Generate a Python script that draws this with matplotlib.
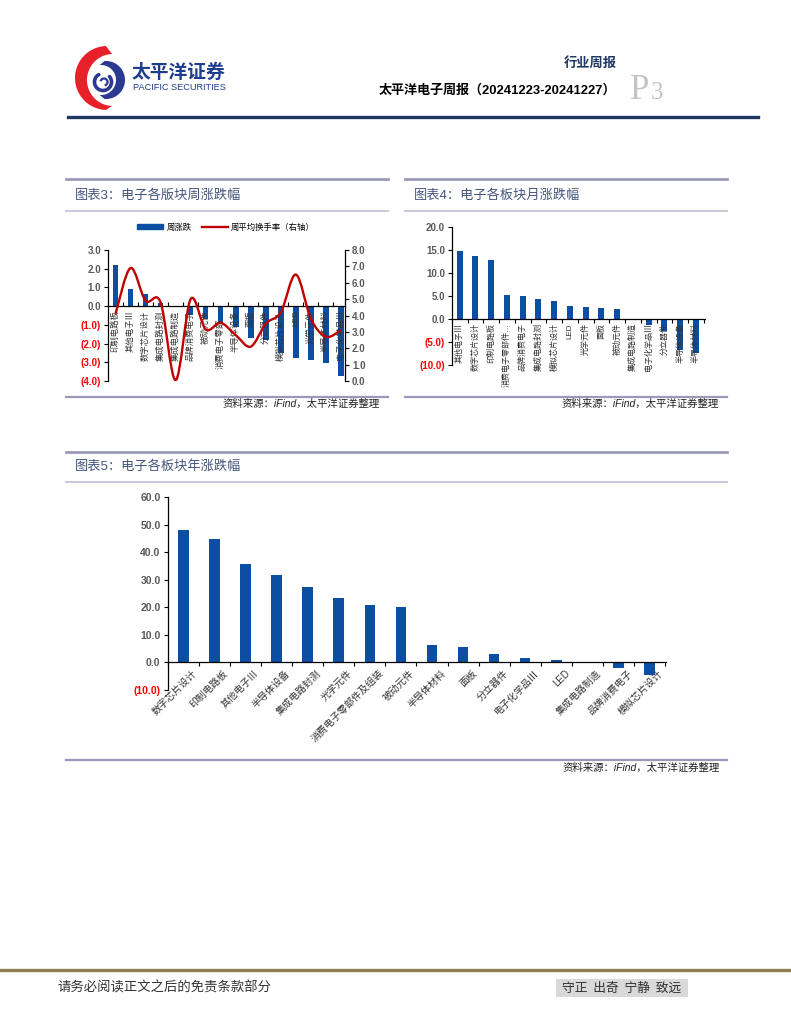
#!/usr/bin/env python3
"""Rebuild page 3 of the weekly electronics report: three sector return charts."""
import matplotlib

matplotlib.use("Agg")
import matplotlib.pyplot as plt
from matplotlib.lines import Line2D
from matplotlib.patches import Patch, PathPatch, Polygon, Rectangle
from matplotlib.path import Path
from matplotlib.ticker import FixedLocator, FuncFormatter
import numpy as np

plt.rcParams["font.family"] = ["Noto Sans CJK SC", "DejaVu Sans"]

W, H = 791, 1024

# ---- data ---------------------------------------------------------------
week_cats = ["印制电路板", "其他电子Ⅲ", "数字芯片设计", "集成电路封测", "集成电路制造",
             "品牌消费电子", "被动元件", "消费电子零部…", "半导体设备", "面板",
             "分立器件", "模拟芯片设计", "LED", "光学元件", "半导体材料", "电子化学品Ⅲ"]
week_chg = [2.2, 0.9, 0.65, 0.15, 0.0, -0.5, -0.7, -0.9, -1.1, -1.7,
            -1.8, -2.5, -2.75, -2.9, -3.05, -3.75]
week_turnover = [4.1, 6.9, 4.9, 4.8, 0.05, 5.0, 3.15, 3.55, 2.8, 2.1,
                 3.5, 4.2, 6.5, 3.8, 2.7, 3.1]

month_cats = ["其他电子Ⅲ", "数字芯片设计", "印制电路板", "消费电子零部件…", "品牌消费电子",
              "集成电路封测", "模拟芯片设计", "LED", "光学元件", "面板", "被动元件",
              "集成电路制造", "电子化学品Ⅲ", "分立器件", "半导体设备", "半导体材料"]
month_chg = [14.7, 13.6, 12.9, 5.3, 4.9, 4.3, 4.0, 2.8, 2.6, 2.4, 2.2,
             0.0, -1.4, -2.7, -6.7, -7.3]

year_cats = ["数字芯片设计", "印制电路板", "其他电子Ⅲ", "半导体设备", "集成电路封测",
             "光学元件", "消费电子零部件及组装", "被动元件", "半导体材料", "面板",
             "分立器件", "电子化学品Ⅲ", "LED", "集成电路制造", "品牌消费电子", "模拟芯片设计"]
year_chg = [48.0, 44.6, 35.6, 31.8, 27.3, 23.4, 20.9, 20.1, 6.5, 5.5,
            3.0, 1.5, 0.9, 0.0, -2.2, -4.6]

week_ticks = [3.0, 2.0, 1.0, 0.0, -1.0, -2.0, -3.0, -4.0]
turnover_ticks = [0.0, 1.0, 2.0, 3.0, 4.0, 5.0, 6.0, 7.0, 8.0]
month_ticks = [20.0, 15.0, 10.0, 5.0, 0.0, -5.0, -10.0]
year_ticks = [60.0, 50.0, 40.0, 30.0, 20.0, 10.0, 0.0, -10.0]

BLUE = "#0b4ea2"
RED = "#c00000"
GRAY = "#595959"
TITLE = "#44557f"
RULE = "#9a9ab8"
LOGO_BLUE = "#2b3990"
NUM_FONT = ["Liberation Sans", "Noto Sans CJK SC"]


def box(x0, y0, x1, y1):
    """pixel box (top-left origin) -> figure fraction rect"""
    return [x0 / W, 1 - y1 / H, (x1 - x0) / W, (y1 - y0) / H]


def paren_fmt(v, _pos):
    return f"({abs(v):.1f})" if v < 0 else f"{v:.1f}"


def crescent(c_out, r_out, c_in, r_in, a0, a1):
    """closed outline between two arcs, angles in degrees, y axis pointing down"""
    t = np.radians(np.linspace(a0, a1, 60))
    outer = np.c_[c_out[0] + r_out * np.cos(t), c_out[1] - r_out * np.sin(t)]
    inner = np.c_[c_in[0] + r_in * np.cos(t[::-1]), c_in[1] - r_in * np.sin(t[::-1])]
    return np.r_[outer, inner]


def style_value_axis(ax, ticks, ylim, labelsize):
    ax.set_ylim(*ylim)
    ax.yaxis.set_major_locator(FixedLocator(ticks))
    ax.yaxis.set_major_formatter(FuncFormatter(paren_fmt))
    ax.tick_params(axis="y", direction="out", length=3, width=0.8, pad=2,
                   labelsize=labelsize)
    for spine in ("top", "right"):
        ax.spines[spine].set_visible(False)
    ax.spines["bottom"].set_position(("data", 0))
    for spine in ax.spines.values():
        spine.set_linewidth(0.9)
        spine.set_color("#000000")
    for lab in ax.get_yticklabels():
        lab.set_fontfamily(NUM_FONT)
        lab.set_fontweight("bold")
        lab.set_color("#ff0000" if lab.get_text().startswith("(") else GRAY)


def bar_panel(ax, cats, vals, width, ticks, ylim, tick_dir, labelsize=7):
    x = np.arange(len(cats))
    ax.bar(x, vals, width=width, color=BLUE, zorder=2)
    ax.set_xticks([])
    ax.set_xticks(np.arange(len(cats) + 1) - 0.5, minor=True)
    ax.tick_params(axis="x", which="minor", direction=tick_dir, length=3,
                   width=0.8)
    style_value_axis(ax, ticks, ylim, labelsize)
    return x


def panel_frame(bg, x0, x1, top, title_y, rule_y, bottom, title, src_x, src_y):
    bg.plot([x0, x1], [top, top], color=RULE, lw=2.0)
    bg.plot([x0, x1], [rule_y, rule_y], color="#c8c8dc", lw=1.4)
    bg.plot([x0, x1], [bottom, bottom], color=RULE, lw=1.6)
    bg.text(x0 + 9, title_y, title, fontsize=9.5, color=TITLE, va="center",
            ha="left", family=NUM_FONT)
    bg.text(src_x, src_y, "资料来源：iFind，太平洋证券整理", fontsize=7.5,
            color="#222222", ha="right", va="center", style="italic",
            family=NUM_FONT)


fig = plt.figure(figsize=(W / 100, H / 100), dpi=100)

# ---- page decoration ----------------------------------------------------
bg = fig.add_axes([0, 0, 1, 1])
bg.set_xlim(0, W)
bg.set_ylim(H, 0)
bg.axis("off")

# logo: red crescent on the left, blue crescent on the right, blue swirl inside
bg.add_patch(Polygon(crescent((107, 78), 32, (113, 80), 26, 92, 268),
                     closed=True, color="#e8202a", lw=0))
bg.add_patch(Polygon(crescent((106, 80), 19, (101, 80), 15, -95, 95),
                     closed=True, color=LOGO_BLUE, lw=0))
t_sw = np.radians(np.linspace(120, 400, 50))
bg.plot(103 + 8.5 * np.cos(t_sw), 82 - 8.5 * np.sin(t_sw), color=LOGO_BLUE,
        lw=2.6, solid_capstyle="round")
t_sw2 = np.radians(np.linspace(-60, 150, 30))
bg.plot(104 + 3.5 * np.cos(t_sw2), 82 - 3.5 * np.sin(t_sw2), color=LOGO_BLUE,
        lw=1.6)
bg.text(132, 72, "太平洋证券", fontsize=13.5, fontweight="bold", color="#1f3d8f",
        va="center", ha="left")
bg.text(133, 88, "PACIFIC SECURITIES", fontsize=6.6, color="#1f3d8f",
        va="center", ha="left", family="Liberation Sans")

bg.text(617, 63, "行业周报", fontsize=9.5, color="#1f3864", ha="right",
        va="center", fontweight="bold")
bg.text(616, 90, "太平洋电子周报（20241223-20241227）", fontsize=9.4, ha="right",
        va="center", fontweight="bold", family=NUM_FONT)
bg.text(630, 99, "P", fontsize=25, color="#c4c4c4", family="Liberation Serif",
        ha="left", va="baseline")
bg.text(651, 99, "3", fontsize=18, color="#c4c4c4", family="Liberation Serif",
        ha="left", va="baseline")
bg.plot([68, 758], [117, 117], color="#1f3864", lw=2.4)

panel_frame(bg, 66, 388, 179, 196, 211, 397, "图表3：电子各版块周涨跌幅", 380, 404)
panel_frame(bg, 405, 727, 179, 196, 211, 397, "图表4：电子各板块月涨跌幅", 719, 404)
panel_frame(bg, 66, 727, 452, 467, 482, 760, "图表5：电子各板块年涨跌幅", 720, 768)

# footer
bg.plot([0, W], [970, 970], color="#8c7f4e", lw=2.4)
bg.text(57, 988, "请务必阅读正文之后的免责条款部分", fontsize=9.6, color="#333333",
        va="center", ha="left")
bg.add_patch(Rectangle((556, 979), 132, 18, color="#d9d9d9", lw=0))
bg.text(622, 988, "守正  出奇  宁静  致远", fontsize=9.2, color="#333333",
        va="center", ha="center")

# ---- chart 3: weekly change + turnover ----------------------------------
ax3 = fig.add_axes(box(108, 250, 345, 381))
x3 = bar_panel(ax3, week_cats, week_chg, 0.37, week_ticks, (-4, 3), "in")
ax3.set_xlim(-0.5, 15.27)
for i, name in enumerate(week_cats):
    ax3.annotate(name, (i, 0), xytext=(0, -3), textcoords="offset points",
                 rotation=90, ha="center", va="top", fontsize=6,
                 color="#333333", family=NUM_FONT, zorder=3)

ax3r = ax3.twinx()
ax3r.set_ylim(0, 8)
ax3r.yaxis.set_major_locator(FixedLocator(turnover_ticks))
ax3r.yaxis.set_major_formatter(FuncFormatter(lambda v, p: f"{v:.1f}"))
ax3r.tick_params(axis="y", direction="out", length=3, width=0.8, pad=2,
                 labelsize=7, labelcolor=GRAY)
for lab in ax3r.get_yticklabels():
    lab.set_fontfamily(NUM_FONT)
    lab.set_fontweight("bold")
for spine in ("top", "left", "bottom"):
    ax3r.spines[spine].set_visible(False)
ax3r.spines["right"].set_linewidth(0.9)

# smoothed line through the turnover points (bezier segments, like Excel)
pts = np.c_[x3, week_turnover].astype(float)
ext = np.r_[pts[:1], pts, pts[-1:]]
verts, codes = [tuple(pts[0])], [Path.MOVETO]
for k in range(len(pts) - 1):
    p0, p1, p2, p3 = ext[k], ext[k + 1], ext[k + 2], ext[k + 3]
    verts += [tuple(p1 + (p2 - p0) / 6), tuple(p2 - (p3 - p1) / 6), tuple(p2)]
    codes += [Path.CURVE4] * 3
ax3r.add_patch(PathPatch(Path(verts, codes), fill=False, edgecolor=RED, lw=1.7,
                         zorder=4))

handles = [Patch(color=BLUE), Line2D([], [], color=RED, lw=1.7)]
fig.legend(handles, ["周涨跌", "周平均换手率（右轴）"], loc="center",
           bbox_to_anchor=(226 / W, 1 - 227 / H), ncol=2, frameon=False,
           fontsize=6, handlelength=3.1, handleheight=0.6, columnspacing=1.2,
           handletextpad=0.4)

# ---- chart 4: monthly change --------------------------------------------
ax4 = fig.add_axes(box(452, 227, 705, 365))
bar_panel(ax4, month_cats, month_chg, 0.38, month_ticks, (-10, 20), "out")
ax4.set_xlim(-0.49, 15.58)
for i, name in enumerate(month_cats):
    ax4.annotate(name, (i, 0), xytext=(0, -3), textcoords="offset points",
                 rotation=90, ha="center", va="top", fontsize=5.8,
                 color="#333333", family=NUM_FONT, zorder=3)

# ---- chart 5: yearly change ---------------------------------------------
ax5 = fig.add_axes(box(167.5, 497, 666, 690))
bar_panel(ax5, year_cats, year_chg, 0.34, year_ticks, (-10, 60), "out",
          labelsize=7.5)
ax5.set_xlim(-0.51, 15.53)
for i, name in enumerate(year_cats):
    ax5.annotate(name, (i, 0), xytext=(6, -4), textcoords="offset points",
                 rotation=45, ha="right", va="top", rotation_mode="anchor",
                 fontsize=7, color="#333333", family=NUM_FONT, zorder=3)

fig.savefig("out.png", dpi=100)
plt.close(fig)
print("Wrote: out.png")
